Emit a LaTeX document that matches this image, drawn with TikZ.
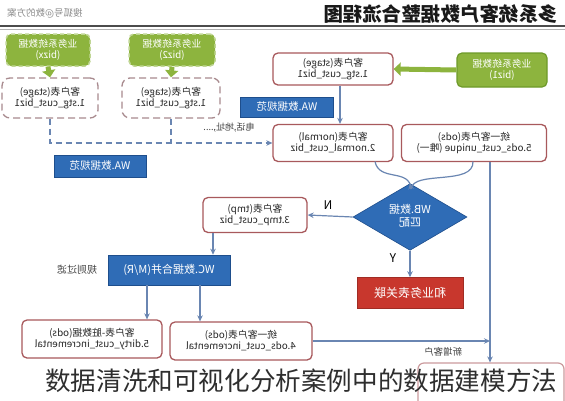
\documentclass[tikz,border=0pt]{standalone}
\usepackage{fontspec}
\setmainfont{Noto Sans CJK SC}
\usetikzlibrary{shapes.geometric,arrows.meta}
\definecolor{gfill}{HTML}{8DB43E}
\definecolor{gdark}{HTML}{6E9A2A}
\definecolor{pinkb}{HTML}{A8595C}
\definecolor{bfill}{HTML}{2F6CB6}
\definecolor{bdark}{HTML}{1E4E8C}
\definecolor{rfill}{HTML}{C8372D}
\definecolor{conncol}{HTML}{6A86B2}
\definecolor{dashb}{HTML}{A88A8E}
\newcommand{\rf}[1]{\reflectbox{\renewcommand{\arraystretch}{0.92}\begin{tabular}{@{}c@{}}#1\end{tabular}}}
\tikzset{
  pinkbox/.style={draw=pinkb, line width=1.3pt, rounded corners=5pt, fill=white, inner sep=1pt, font=\fontsize{9.8}{11}\selectfont, text=black!85},
  dashbox/.style={draw=dashb, line width=1.3pt, dash pattern=on 7pt off 4pt, rounded corners=8pt, fill=white, inner sep=1pt, font=\fontsize{9.8}{11}\selectfont, text=black!85},
  greenbox/.style={fill=gfill, rounded corners=5pt, text=white, inner sep=1pt, font=\fontsize{9.8}{11}\selectfont},
  bluebox/.style={fill=bfill, draw=bdark, line width=0.6pt, text=white, inner sep=1pt, font=\fontsize{10.5}{12}\selectfont},
  connector/.style={draw=conncol, line width=1.2pt, -{Stealth[length=6pt,width=5.5pt]}},
  dconnector/.style={draw=conncol, line width=1.5pt, dash pattern=on 6pt off 4pt, -{Stealth[length=6pt,width=5.5pt]}},
  garrow/.style={draw=gfill, line width=5pt, -{Triangle[length=7pt,width=13pt]}},
  lbl/.style={font=\fontsize{9}{10}\selectfont, text=black!75, inner sep=0pt},
}
\begin{document}
\begin{tikzpicture}[x=1pt,y=-1pt]
\useasboundingbox (0,0) rectangle (565,400);
\fill[white] (0,0) rectangle (565,400);
% header
\node[font=\fontsize{9.5}{11}\selectfont, text=black!45, anchor=west, inner sep=0pt] (hl) at (7,13) {\reflectbox{搜狐号@数的方案}};
\node[font=\fontsize{19.5}{22}\selectfont\bfseries, text=black!90, anchor=east, inner sep=0pt] (title) at (558,14) {\reflectbox{多系统客户数据整合流程图}};
\draw[line width=2pt, black!70] (0,26) -- (565,26);
\draw[line width=0.6pt, black!30] (0,29.5) -- (565,29.5);

% green sources
\node[greenbox, draw=gfill!55!white, line width=1.5pt, dash pattern=on 4pt off 3pt, minimum width=84pt, minimum height=32pt] (g1) at (48,50) {\rf{业务系统数据\\(bizx)}};
\node[greenbox, draw=gfill!55!white, line width=1.5pt, dash pattern=on 4pt off 3pt, minimum width=86pt, minimum height=32pt] (g2) at (172,50) {\rf{业务系统数据\\(biz2)}};
\node[greenbox, draw=gdark, line width=1.2pt, minimum width=90pt, minimum height=34pt] (g3) at (502,70) {\rf{业务系统数据\\(biz1)}};

% stage boxes
\node[dashbox, minimum width=96pt, minimum height=40pt] (d1) at (50,98) {\rf{客户表(stage)\\1.stg\_cust\_biz1}};
\node[dashbox, minimum width=98pt, minimum height=40pt] (d2) at (171,98) {\rf{客户表(stage)\\1.stg\_cust\_biz1}};
\node[pinkbox, minimum width=120pt, minimum height=32pt] (s1) at (333,69) {\rf{客户表(stage)\\1.stg\_cust\_biz1}};

\draw[garrow] (g1.south) -- (d1.north);
\draw[garrow] (g2.south) -- (d2.north);
\draw[garrow] (g3.west) -- (s1.east);

% WA labels
\node[bluebox, minimum width=93pt, minimum height=20pt] (wa1) at (287,107) {\reflectbox{WA.数据规范}};
\node[bluebox, minimum width=92pt, minimum height=22pt] (wa2) at (100,166) {\reflectbox{WA.数据规范}};

% normal / unique
\node[pinkbox, minimum width=120pt, minimum height=37pt] (n1) at (333,143) {\rf{客户表(normal)\\2.normal\_cust\_biz}};
\node[pinkbox, minimum width=145pt, minimum height=37pt] (u1) at (474,143) {\rf{统一客户表(ods)\\5.ods\_cust\_unique (唯一)}};

\draw[connector] (s1.south -| 340,0) -- (n1.north -| 340,0);

% dashed merge
\coordinate (c1) at (50,143);
\coordinate (c2) at (171,143);
\draw[dconnector] (d1.south) -- (c1) -- (n1.west);
\draw[draw=conncol, line width=1.5pt, dash pattern=on 6pt off 4pt] (d2.south) -- (c2);
\node[lbl] (tel) at (229,128) {\reflectbox{电话,地址,....}};

% diamond
\node[diamond, fill=bfill, draw=bdark, line width=0.6pt, text=white, inner sep=0pt, minimum width=114pt, minimum height=40pt, font=\fontsize{11}{12}\selectfont] (dia) at (410,217) {\rf{WB.数据\\匹配}};
\coordinate (m) at (411,189);
\draw[draw=conncol, line width=1.2pt] (375,161.5) .. controls (379,182) and (410,168) .. (m);
\draw[draw=conncol, line width=1.2pt] (473,161.5) .. controls (474,186) and (413,170) .. (m);
\draw[connector] (m) -- (dia.north);

% tmp box
\node[pinkbox, minimum width=104pt, minimum height=35pt] (tmp) at (255,215) {\rf{客户表(tmp)\\3.tmp\_cust\_biz}};
\draw[connector] (dia.west) -- (tmp.east);
\node[font=\fontsize{12}{13}\selectfont, inner sep=0pt] (nl) at (328,205) {\reflectbox{N}};

% red box
\node[fill=rfill, draw=rfill!80!black, line width=0.6pt, text=white, minimum width=106pt, minimum height=31pt, inner sep=1pt, font=\fontsize{12}{14}\selectfont] (red) at (410,293) {\reflectbox{和业务表关联}};
\draw[connector] (dia.south) -- (red.north);
\node[font=\fontsize{12}{13}\selectfont, inner sep=0pt] (yl) at (393,258) {\reflectbox{Y}};

% WC box
\node[bluebox, minimum width=122pt, minimum height=30pt, font=\fontsize{11}{13}\selectfont] (wc) at (169,270) {\reflectbox{WC.数据合并(M/R)}};
\draw[connector] (tmp.south -| 213,0) -- (wc.north -| 213,0);
\node[lbl, font=\fontsize{10}{11}\selectfont] (rule) at (77,270) {\reflectbox{规则过滤}};

% bottom boxes
\node[pinkbox, minimum width=140pt, minimum height=38pt] (dirty) at (92,339) {\rf{客户表-脏数据(ods)\\5.dirty\_cust\_incremental}};
\node[pinkbox, minimum width=142pt, minimum height=38pt] (inc) at (241,341) {\rf{统一客户表(ods)\\4.ods\_cust\_incremental}};
\draw[connector] (wc.south -| 147,0) -- (dirty.north -| 147,0);
\draw[connector] (wc.south -| 200,0) -- (inc.north -| 200,0);

% bottom-right box (partly hidden)
\node[draw=pinkb!60!white, line width=1.2pt, rounded corners=6pt, fill=white, minimum width=146pt, minimum height=50pt] (fin) at (491,388) {};
\coordinate (vx) at (490,0);
\draw[connector] (u1.south -| vx) -- (fin.north -| vx);
\draw[connector] (inc.east) -- (inc.east -| vx);
\node[lbl, font=\fontsize{9.5}{11}\selectfont] (newc) at (443,352) {\reflectbox{新增客户}};

% caption
\node[font=\fontsize{25.6}{30}\selectfont, text=black!82, inner sep=0pt, anchor=west] (cap) at (45,381) {数据清洗和可视化分析案例中的数据建模方法};
\end{tikzpicture}
\end{document}
